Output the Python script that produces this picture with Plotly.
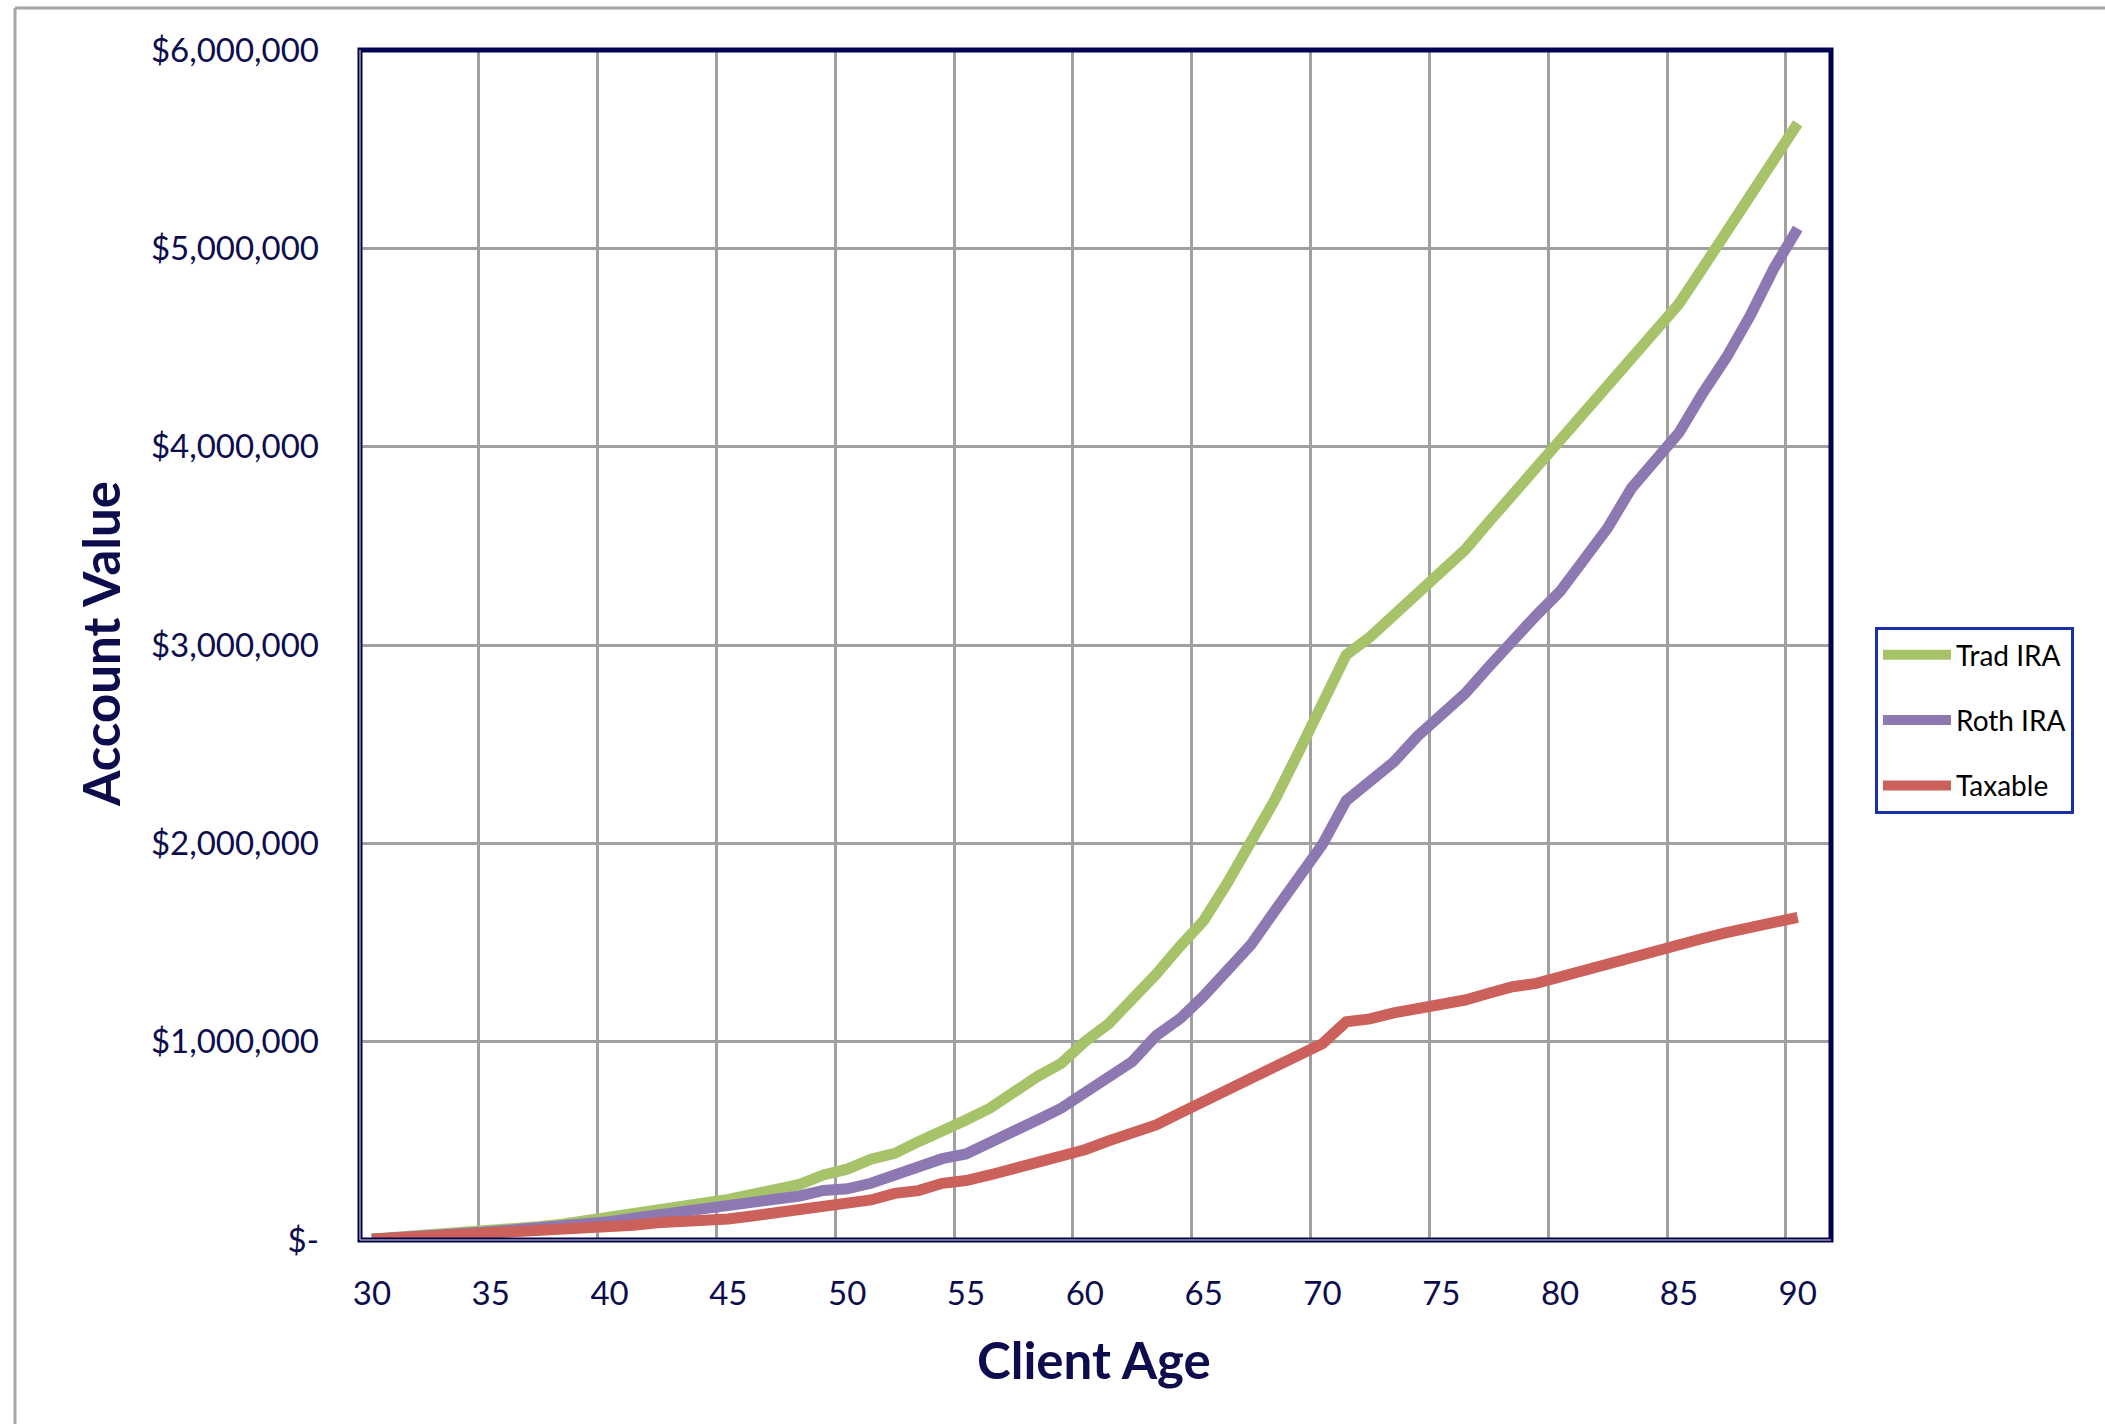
import plotly.graph_objects as go

# ---------------- data ----------------
ages = list(range(30, 91))

trad_ira = [0.005, 0.012, 0.025, 0.034, 0.042, 0.050, 0.059, 0.067, 0.080, 0.097,
            0.114, 0.134, 0.148, 0.160, 0.190, 0.205, 0.230, 0.260, 0.280, 0.328,
            0.357, 0.407, 0.437, 0.496, 0.546, 0.605, 0.664, 0.748, 0.824, 0.890,
            1.000, 1.090, 1.210, 1.340, 1.480, 1.610, 1.800, 2.000, 2.220, 2.460,
            2.700, 2.950, 3.040, 3.150, 3.270, 3.380, 3.480, 3.620, 3.760, 3.900,
            4.030, 4.160, 4.300, 4.440, 4.580, 4.720, 4.900, 5.080, 5.250, 5.450,
            5.630]

roth_ira = [0.004, 0.008, 0.013, 0.020, 0.034, 0.042, 0.050, 0.059, 0.072, 0.087,
            0.092, 0.110, 0.126, 0.140, 0.156, 0.168, 0.182, 0.205, 0.222, 0.250,
            0.258, 0.286, 0.328, 0.360, 0.410, 0.434, 0.487, 0.546, 0.605, 0.664,
            0.745, 0.830, 0.900, 1.030, 1.115, 1.230, 1.370, 1.490, 1.660, 1.830,
            1.995, 2.215, 2.310, 2.410, 2.540, 2.640, 2.755, 2.890, 3.030, 3.150,
            3.270, 3.440, 3.590, 3.790, 3.920, 4.070, 4.270, 4.450, 4.660, 4.900,
            5.100]

taxable = [0.004, 0.010, 0.012, 0.017, 0.022, 0.027, 0.034, 0.042, 0.050, 0.054,
           0.067, 0.074, 0.087, 0.092, 0.097, 0.106, 0.121, 0.136, 0.150, 0.165,
           0.178, 0.202, 0.235, 0.249, 0.286, 0.300, 0.328, 0.361, 0.386, 0.417,
           0.455, 0.500, 0.535, 0.580, 0.640, 0.700, 0.750, 0.810, 0.870, 0.940,
           0.990, 1.100, 1.115, 1.145, 1.165, 1.195, 1.210, 1.244, 1.277, 1.294,
           1.328, 1.360, 1.390, 1.425, 1.460, 1.490, 1.520, 1.550, 1.580, 1.605,
           1.627]

series_names = ["Trad IRA", "Roth IRA", "Taxable"]
series_values = [trad_ira, roth_ira, taxable]
series_colors = ["#A6C36A", "#8E78B2", "#CB615A"]

x_tick_vals = list(range(30, 91, 5))
x_tick_text = [str(v) for v in x_tick_vals]
y_tick_vals = [0, 1_000_000, 2_000_000, 3_000_000, 4_000_000, 5_000_000, 6_000_000]
y_tick_text = ["$-", "$1,000,000", "$2,000,000", "$3,000,000",
               "$4,000,000", "$5,000,000", "$6,000,000"]

# ---------------- figure ----------------
W, H = 2105, 1424
ML, MR, MT, MB = 360, 274, 50, 184
PW, PH = W - ML - MR, H - MT - MB

FONT = "Lato, 'Open Sans', sans-serif"
NAVY = "#0d0d4d"
GRID = "#a0a0a0"

fig = go.Figure()
for name, vals, col in zip(series_names, series_values, series_colors):
    fig.add_trace(go.Scatter(
        x=ages, y=[v * 1_000_000 for v in vals], name=name, mode="lines",
        legendgroup=name,
        line=dict(color=col, width=11),
        hoverinfo="skip",
    ))

def px_x(p):
    return (p - ML) / PW

def px_y(p):
    return (H - MB - p) / PH

shapes = [
    # outer chart border (top & left)
    dict(type="line", xref="paper", yref="paper", x0=px_x(15), x1=px_x(2110),
         y0=px_y(8), y1=px_y(8), line=dict(color="#a6a6a6", width=3)),
    dict(type="line", xref="paper", yref="paper", x0=px_x(15), x1=px_x(15),
         y0=px_y(8), y1=px_y(1430), line=dict(color="#a6a6a6", width=3)),
    # plot area border
    dict(type="rect", xref="paper", yref="paper", x0=0, x1=1, y0=0, y1=1,
         line=dict(color="#000050", width=5), layer="above"),
    dict(type="line", xref="paper", yref="paper", x0=0, x1=1, y0=0, y1=0,
         line=dict(color="#9a9aa6", width=1.5), layer="above"),
    dict(type="line", xref="paper", yref="paper", x0=0, x1=0, y0=0, y1=1,
         line=dict(color="#9a9aa6", width=1.5), layer="above"),
]

annotations = [
    dict(text="<b>Account Value</b>", xref="paper", yref="paper",
         x=px_x(100), y=px_y(644), xanchor="center", yanchor="middle",
         textangle=-90, showarrow=False,
         font=dict(family=FONT, size=51, color=NAVY)),
    dict(text="<b>Client Age</b>", xref="paper", yref="paper",
         x=px_x(1094), y=px_y(1359), xanchor="center", yanchor="middle",
         showarrow=False, font=dict(family=FONT, size=51, color=NAVY)),
]

fig.update_layout(
    width=W, height=H,
    margin=dict(l=ML, r=MR, t=MT, b=MB, pad=0),
    paper_bgcolor="white", plot_bgcolor="white",
    font=dict(family=FONT, color=NAVY),
    showlegend=True,
    legend=dict(
        x=px_x(1875), y=px_y(627), xanchor="left", yanchor="top",
        bgcolor="white", bordercolor="#1a2ea8", borderwidth=3,
        font=dict(family=FONT, size=28, color="#000000"),
        itemwidth=68, tracegroupgap=26, traceorder="grouped",
    ),
    xaxis=dict(
        range=[29.5, 91.4], tickmode="array", tickvals=x_tick_vals,
        ticktext=x_tick_text, showgrid=False, zeroline=False,
        ticks="", ticklabelstandoff=31,
        tickfont=dict(family=FONT, size=33, color=NAVY),
        minor=dict(tick0=29.5, dtick=5, showgrid=True, gridcolor=GRID,
                   gridwidth=3, ticks=""),
        showline=False,
    ),
    yaxis=dict(
        range=[0, 6_000_000], tickmode="array", tickvals=y_tick_vals,
        ticktext=y_tick_text, showgrid=True, gridcolor=GRID, gridwidth=3,
        zeroline=False, ticks="", ticklabelstandoff=40,
        tickfont=dict(family=FONT, size=33, color=NAVY),
        showline=False,
    ),
    shapes=shapes,
    annotations=annotations,
)

fig.write_html("out.html")
